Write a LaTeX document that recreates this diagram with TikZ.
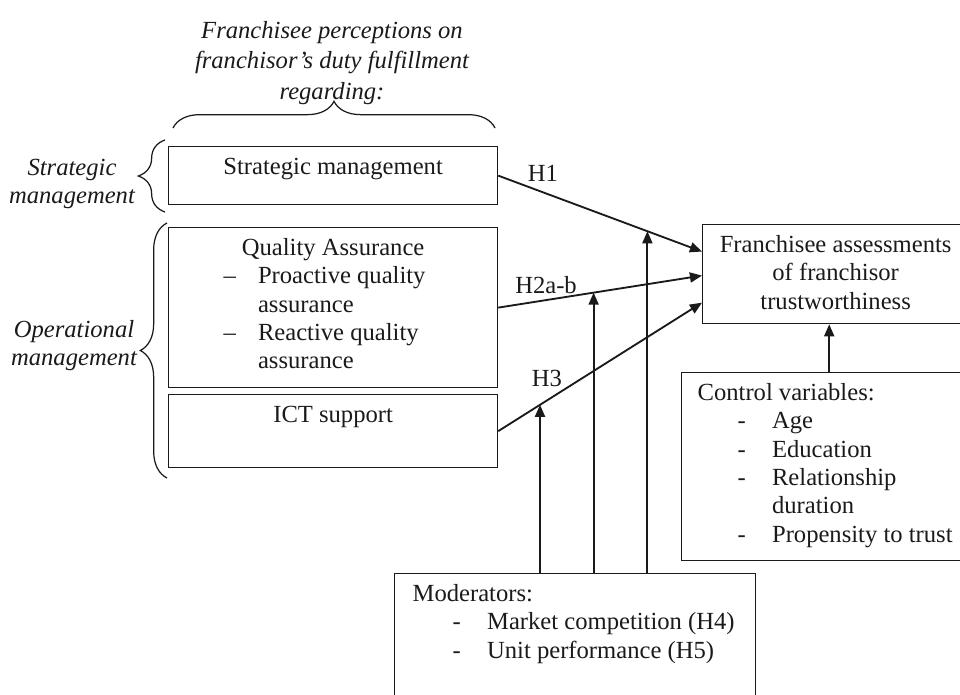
\documentclass[tikz,border=0pt]{standalone}
\usepackage{fontspec}
\setmainfont{Liberation Serif}
\usetikzlibrary{arrows.meta,decorations.pathreplacing}
\definecolor{figink}{HTML}{1A1A1A}

\begin{document}
\begin{tikzpicture}[x=0.4875pt, y=-0.4875pt,
                    every node/.style={text=figink, font=\fontsize{12}{13.8}\selectfont},
                    box/.style 2 args={draw=figink, line width=0.6pt, anchor=north west,
                                       inner sep=0pt, text height=13.6pt, text depth=#2,
                                       minimum width=#1},
                    arr/.style={draw=figink, line width=0.9pt,
                                -{Triangle[length=5.9pt, width=4.9pt]}},
                    curly/.style={draw=figink, line width=0.6pt, decorate,
                                  decoration={brace, amplitude=13pt}},
                    side/.style={inner sep=0pt, align=center}]

  %% 列表項目: 先縮排, 再放破折號, 然後是文字
  \newcommand{\dashitem}[3]{\hspace*{#1}\makebox[16.8pt][l]{#2}#3}

  \useasboundingbox (0,0) rectangle (960,694);
  \clip (0,0) rectangle (960,694);

  %% ---- 上方說明與大括號 ----
  \node[side, font=\fontsize{12}{14.8}\selectfont\itshape] (perc) at (332,63)
    {Franchisee perceptions on\\ franchisor's duty fulfillment\\ regarding:};
  \draw[curly] (173,128) -- (495,128);

  %% ---- 左邊的兩個分組 ----
  \node[side, font=\fontsize{12}{13.2}\selectfont\itshape] (stratlbl)
    at (72,184) {Strategic\\ management};
  \draw[curly] (165,212) -- (165,140);
  \node[side, font=\fontsize{12}{13.6}\selectfont\itshape] (operlbl)
    at (74,346) {Operational\\ management};
  \draw[curly] (167,478) -- (167,223);

  %% ---- 三個前因方框 ----
  \node[box={160.4pt}{14.7pt}] (sm) at (168,146)
    {\begin{tabular}[t]{@{}c@{}}Strategic management\end{tabular}};
  \node[box={160.4pt}{64.4pt}] (qa) at (168,227)
    {\begin{tabular}[t]{@{}p{160.4pt}@{}}
       \multicolumn{1}{@{}c@{}}{Quality Assurance}\\
       \dashitem{26.8pt}{--}{Proactive quality}\\
       \hspace*{43.6pt}assurance\\
       \dashitem{26.8pt}{--}{Reactive quality}\\
       \hspace*{43.6pt}assurance
     \end{tabular}};
  \node[box={160.4pt}{22pt}] (ict) at (168,394)
    {\begin{tabular}[t]{@{}c@{}}ICT support\end{tabular}};

  %% ---- 結果, 控制變數, 調節變數 ----
  \node[box={129.7pt}{34.7pt}] (fr) at (702,224)
    {\begin{tabular}[t]{@{}c@{}}Franchisee assessments\\ of franchisor\\ trustworthiness\end{tabular}};
  \node[box={139.9pt}{78pt}] (ctl) at (681,372)
    {\begin{tabular}[t]{@{}p{139.9pt}@{}}
       \hspace*{7.8pt}Control variables:\\
       \dashitem{27.3pt}{-}{Age}\\
       \dashitem{27.3pt}{-}{Education}\\
       \dashitem{27.3pt}{-}{Relationship}\\
       \hspace*{44.1pt}duration\\
       \dashitem{27.3pt}{-}{Propensity to trust}
     \end{tabular}};
  \node[box={176pt}{52.2pt}] (mod) at (394,573)
    {\begin{tabular}[t]{@{}p{176pt}@{}}
       \hspace*{8.8pt}Moderators:\\
       \dashitem{28.3pt}{-}{Market competition (H4)}\\
       \dashitem{28.3pt}{-}{Unit performance (H5)}
     \end{tabular}};

  %% ---- 假設箭頭 ----
  \draw[arr] (sm.east) -- coordinate[pos=0.732] (onh1) ([yshift=11pt]fr.west);
  \draw[arr] (qa.east) -- coordinate[pos=0.468] (onh2) ([yshift=-0.7pt]fr.west);
  \draw[arr] (ict.east) -- coordinate[pos=0.205] (onh3) ([yshift=-13.9pt]fr.west);
  \node (h1) at (543,173) {H1};
  \node (h2) at (546,285) {H2a-b};
  \node (h3) at (547,378) {H3};

  %% 調節變數指向三條假設線
  \foreach \j in {1,2,3}
    \draw[arr] (mod.north -| onh\j) -- (onh\j);

  %% 控制變數
  \draw[arr] ([xshift=2pt]ctl.north) -- ([xshift=2pt]ctl.north |- fr.south);

\end{tikzpicture}
\end{document}
